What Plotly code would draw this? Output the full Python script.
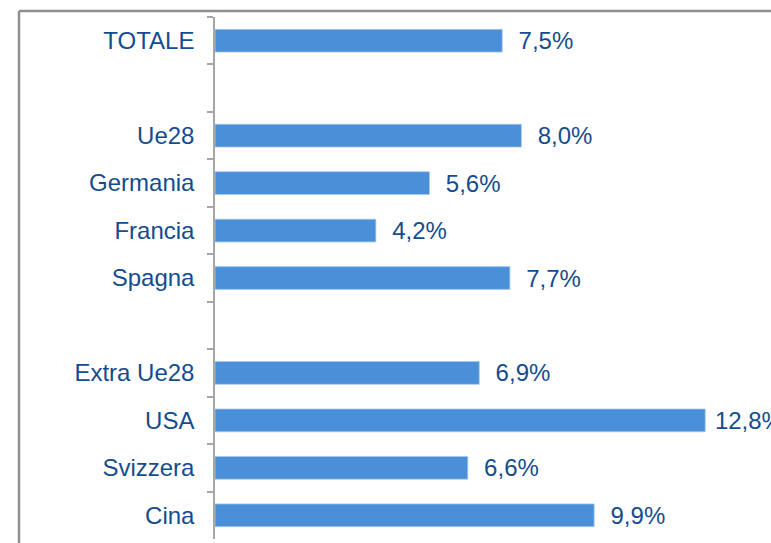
import plotly.graph_objects as go

categories = ["TOTALE", " ", "Ue28", "Germania", "Francia", "Spagna", "  ",
              "Extra Ue28", "USA", "Svizzera", "Cina"]
values = [7.5, None, 8.0, 5.6, 4.2, 7.7, None, 6.9, 12.8, 6.6, 9.9]

W, H = 771, 543
L, T, B, R = 215, 17, 4, 0
plot_w = W - L - R
plot_h = H - T - B
px_per_unit = 38.3
xmax = plot_w / px_per_unit

text_color = "#154c8e"
font_family = "Liberation Sans, Arial, sans-serif"
fsize = 24

# label sits closer to the bar when it would run past the edge (as in the source)
templates = ["\u00a0%{x:.1f}%" if (v is not None and v > 12) else "\u00a0\u00a0%{x:.1f}%"
             for v in values]

fig = go.Figure()
fig.add_trace(go.Bar(
    y=categories,
    x=values,
    orientation="h",
    marker=dict(color="#4a90d9", line=dict(color="#a9c8ec", width=0.8)),
    texttemplate=templates,
    textposition="outside",
    constraintext="none",
    cliponaxis=False,
    textfont=dict(color=text_color, size=fsize, family=font_family),
    hoverinfo="skip",
))

# outer chart-area frame: only its left and top edges are inside the crop
fx0 = (19 - L) / plot_w
fy1 = 1 + (T - 11) / plot_h
frame = dict(color="#8f8f8f", width=2.5)
fig.add_shape(type="line", xref="paper", yref="paper",
              x0=fx0, x1=fx0, y0=-0.05, y1=fy1, line=frame, layer="below")
fig.add_shape(type="line", xref="paper", yref="paper",
              x0=fx0, x1=1.05, y0=fy1, y1=fy1, line=frame, layer="below")

fig.update_layout(
    width=W, height=H,
    margin=dict(l=L, r=R, t=T, b=B, pad=0),
    paper_bgcolor="white", plot_bgcolor="white",
    separators=",.",
    bargap=0.52,
    showlegend=False,
    font=dict(family=font_family, color=text_color, size=fsize),
    xaxis=dict(range=[0, xmax], showticklabels=False, showgrid=False,
               zeroline=False, showline=False, fixedrange=True),
    yaxis=dict(type="category", categoryorder="array", categoryarray=categories,
               autorange="reversed", showgrid=False, zeroline=False,
               showline=True, linecolor="#a6a6a6", linewidth=1.5,
               ticks="outside", tickson="boundaries", ticklen=6,
               tickcolor="#a6a6a6", tickwidth=1.5,
               ticklabelstandoff=14, fixedrange=True,
               tickfont=dict(color=text_color, size=fsize, family=font_family)),
)

fig.write_html("out.html",
               config={"displayModeBar": False},
               post_script="document.body.style.margin='0';"
                           "document.body.style.overflow='hidden';")
